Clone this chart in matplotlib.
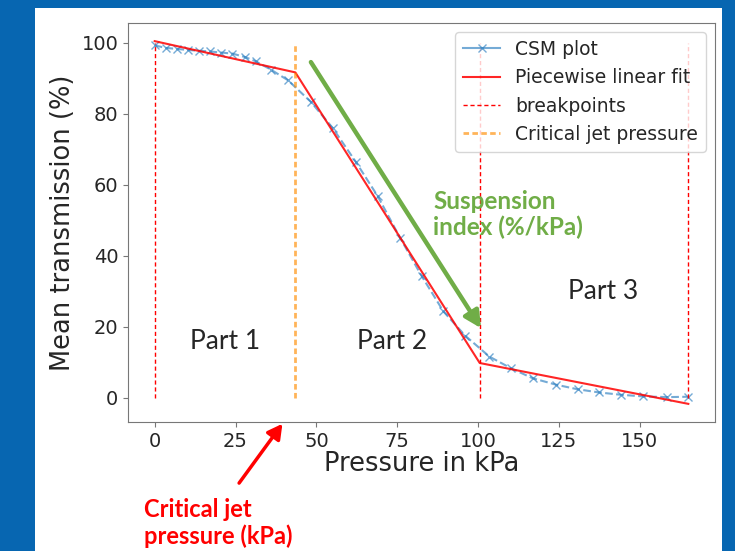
import numpy as np
import matplotlib
matplotlib.use('Agg')
import matplotlib.pyplot as plt
from matplotlib.patches import Rectangle


# CSM measurement: mean transmission vs jet pressure
pressure = [0, 3.4, 7.0, 10.3, 13.7, 17.0, 20.4, 24.0, 28.0, 31.3, 35.9, 41.2,
            48.3, 55.0, 62.2, 69.0, 75.9, 82.6, 89.3, 96.0, 103.5, 110.2,
            116.9, 124.1, 130.8, 137.5, 144.3, 151.0, 158.5, 165.0]
transmission = [99.2, 98.5, 98.2, 97.9, 97.7, 97.5, 97.2, 96.9, 95.9, 94.7,
                92.4, 89.4, 83.3, 76.0, 66.4, 56.7, 45.0, 34.2, 24.3, 17.5,
                11.6, 8.3, 5.5, 3.7, 2.4, 1.5, 0.85, 0.4, 0.2, 0.3]

# piecewise linear fit (knots) and the breakpoints
fit_x = [0, 43.5, 100.5, 165.0]
fit_y = [100.4, 91.6, 9.8, -1.7]
breakpoints = [0, 100.5, 165.0]
critical_pressure = 43.5

parts = ['Part 1', 'Part 2', 'Part 3']
part_pos = [(21.7, 15.9), (73.3, 15.9), (138.8, 30.0)]

bg_blue = '#0766b1'
green = '#70ad47'
dark = '#262626'

fig = plt.figure(figsize=(7.35, 5.51), dpi=100, facecolor=bg_blue)
fig.add_artist(Rectangle((35/735, 0), (722-35)/735, (551-7.5)/551,
                         transform=fig.transFigure, facecolor='white',
                         edgecolor='none', zorder=0))

ax = fig.add_axes([128/735, (551-422)/551, (715-128)/735, (422-23)/551])

ax.plot(pressure, transmission, '--', marker='x', color='#2c7fc0', alpha=0.65,
        lw=1.5, ms=5.5, label='CSM plot')
ax.plot(fit_x, fit_y, '-', color='r', alpha=0.85, lw=1.5,
        label='Piecewise linear fit')
ax.vlines(breakpoints, 0, 100, colors='r', linestyles=(0, (3, 2)), lw=1,
          label='breakpoints')
ax.vlines([critical_pressure], 0, 100, colors='darkorange',
          linestyles=(0, (2, 1.2)), lw=2, alpha=0.65,
          label='Critical jet pressure')

ax.set_xticks([0, 25, 50, 75, 100, 125, 150])
ax.set_yticks([0, 20, 40, 60, 80, 100])
ax.tick_params(labelsize=14, colors='#777777', labelcolor=dark)
for s in ax.spines.values():
    s.set_color('#777777')
ax.set_xlabel('Pressure in kPa', fontsize=18.5, color=dark, labelpad=0)
ax.set_ylabel('Mean transmission (%)', fontsize=18.5, color=dark, labelpad=4)

leg = ax.legend(loc='upper right', fontsize=13.5, labelcolor=dark)
leg.get_lines()[0].set_linestyle('-')

for name, (px, py) in zip(parts, part_pos):
    ax.text(px, py, name, ha='center', va='center', fontsize=19,
            family='Lato', color=dark)

# suspension index arrow along part 2
ax.annotate('', xy=(100.9, 19.6), xytext=(48.3, 94.5),
            arrowprops=dict(arrowstyle='-|>,head_length=0.55,head_width=0.28',
                            color=green, lw=3.2, mutation_scale=18,
                            shrinkA=0, shrinkB=0))
ax.text(86.1, 51.6, 'Suspension\nindex (%/kPa)', ha='left', va='center',
        fontsize=17.5, family='Lato', weight='bold', color=green,
        linespacing=1.15)

# critical jet pressure callout below the axis
ax.annotate('', xy=(39.5, -7.3), xytext=(26.1, -24.0),
            arrowprops=dict(arrowstyle='-|>,head_length=0.55,head_width=0.3',
                            color='r', lw=2.5, mutation_scale=16,
                            shrinkA=0, shrinkB=0),
            annotation_clip=False)
ax.text(-3.3, -35.2, 'Critical jet\npressure (kPa)', ha='left', va='center',
        fontsize=17, family='Lato', weight='bold', color='r',
        linespacing=1.2)

fig.savefig('out.png', dpi=100, facecolor=bg_blue)
